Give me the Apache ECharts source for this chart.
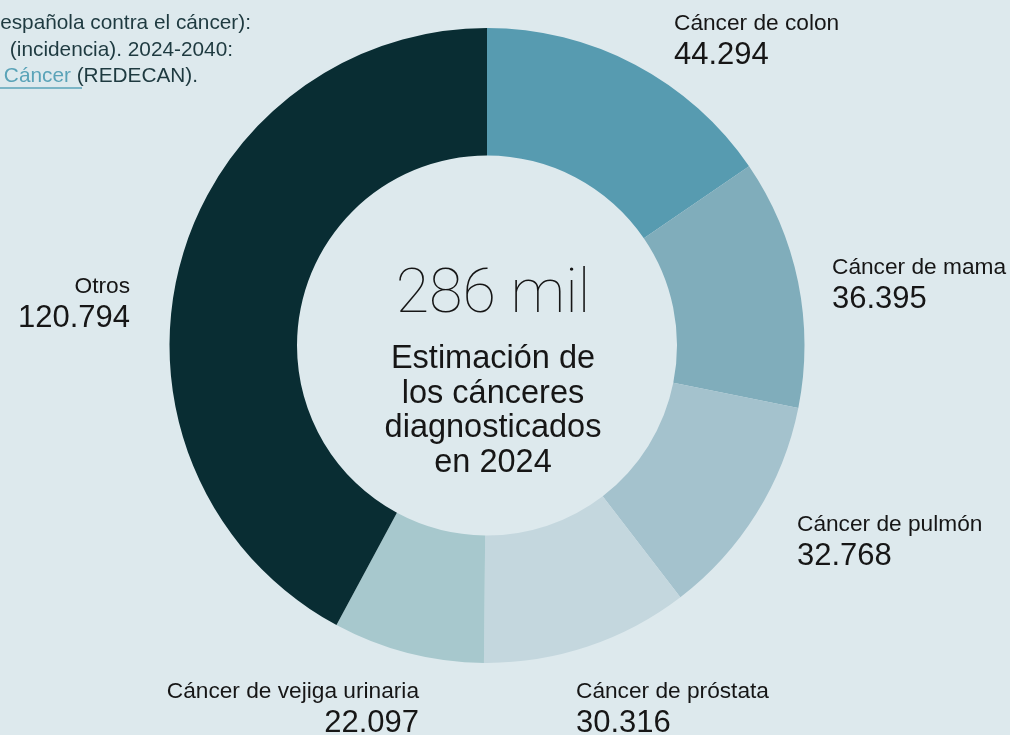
<!DOCTYPE html>
<html>
<head>
<meta charset="utf-8">
<script src="https://cdn.jsdelivr.net/npm/echarts@6/dist/echarts.min.js"></script>
<style>
  html, body { margin: 0; padding: 0; background: #dde9ed; }
  #chart { width: 1010px; height: 735px; }
</style>
</head>
<body>
<div id="chart"></div>
<script>
// ---- Data ----
const categories = ['Cáncer de colon', 'Cáncer de mama', 'Cáncer de pulmón', 'Cáncer de próstata', 'Cáncer de vejiga urinaria', 'Otros'];
const values = [44294, 36395, 32768, 30316, 22097, 120794];
const sliceColors = ['#579bb0', '#80adbb', '#a4c2cd', '#c4d7de', '#a7c8cd', '#092d33'];
const centerSubtitle = ['Estimación de', 'los cánceres', 'diagnosticados', 'en 2024'];
const noteLines = ['española contra el cáncer):', '(incidencia). 2024-2040:'];
const noteLink = 'Cáncer ';
const noteTail = '(REDECAN).';

// label anchor placement (layout only)
const labelAnchors = [
  { x: 674, y: 10, align: 'left' },
  { x: 832, y: 254, align: 'left' },
  { x: 797, y: 511, align: 'left' },
  { x: 576, y: 678, align: 'left' },
  { x: 419, y: 678, align: 'right' },
  { x: 130, y: 273, align: 'right' }
];

function fmt(v) {
  return String(v).replace(/\B(?=(\d{3})+(?!\d))/g, '.');
}
const total = values.reduce((a, b) => a + b, 0);

const chart = echarts.init(document.getElementById('chart'));
const textColor = '#161616';
const noteColor = '#1e3a40';
const linkColor = '#5aa3b8';
const FF = '"Liberation Sans", Arial, sans-serif';
const noteSize = 20.8;

const option = {
  backgroundColor: '#dde9ed',
  animation: false,
  series: [{
    type: 'pie',
    center: [487, 345.5],
    radius: [190, 317.5],
    startAngle: 90,
    clockwise: true,
    avoidLabelOverlap: false,
    emphasis: { disabled: true },
    itemStyle: { borderWidth: 0 },
    data: categories.map((c, i) => ({
      name: c,
      value: values[i],
      itemStyle: { color: sliceColors[i] },
      label: { align: labelAnchors[i].align }
    })),
    label: {
      show: true,
      position: 'outside',
      formatter: p => '{n|' + p.name + '}\n{v|' + fmt(p.value) + '}',
      rich: {
        n: { fontFamily: FF, fontSize: 22.7, lineHeight: 27, color: textColor },
        v: { fontFamily: FF, fontSize: 31, lineHeight: 36, color: textColor }
      }
    },
    labelLine: { show: false },
    labelLayout: function (params) {
      const a = labelAnchors[params.dataIndex];
      return { x: a.x, y: a.y, align: a.align, verticalAlign: 'top' };
    }
  }],
  graphic: [
    {
      type: 'text',
      style: {
        text: Math.floor(total / 1000) + ' mil',
        x: 493, y: 266,
        align: 'center',
        verticalAlign: 'top',
        fontFamily: 'Roboto, sans-serif',
        fontWeight: 100,
        fontSize: 61,
        fill: textColor
      }
    },
    {
      type: 'text',
      style: {
        text: centerSubtitle.join('\n'),
        x: 493, y: 342,
        align: 'center',
        verticalAlign: 'top',
        fontFamily: FF,
        fontSize: 32.5,
        lineHeight: 34.5,
        fill: textColor
      }
    },
    {
      type: 'text',
      style: {
        text: noteLines[0],
        x: 251, y: 12.5,
        align: 'right',
        verticalAlign: 'top',
        fontFamily: FF,
        fontSize: noteSize,
        fill: noteColor
      }
    },
    {
      type: 'text',
      style: {
        text: noteLines[1],
        x: 233, y: 39.5,
        align: 'right',
        verticalAlign: 'top',
        fontFamily: FF,
        fontSize: noteSize,
        fill: noteColor
      }
    },
    {
      type: 'text',
      style: {
        text: '{l|' + noteLink + '}{d|' + noteTail + '}',
        x: 198, y: 66,
        align: 'right',
        verticalAlign: 'top',
        fontFamily: FF,
        fontSize: noteSize,
        rich: {
          l: { fill: linkColor, fontSize: noteSize, fontFamily: FF },
          d: { fill: noteColor, fontSize: noteSize, fontFamily: FF }
        }
      }
    },
    {
      type: 'line',
      shape: { x1: 0, y1: 88, x2: 82, y2: 88 },
      style: { stroke: linkColor, lineWidth: 1.5 }
    }
  ]
};
chart.setOption(option);
</script>
</body>
</html>
